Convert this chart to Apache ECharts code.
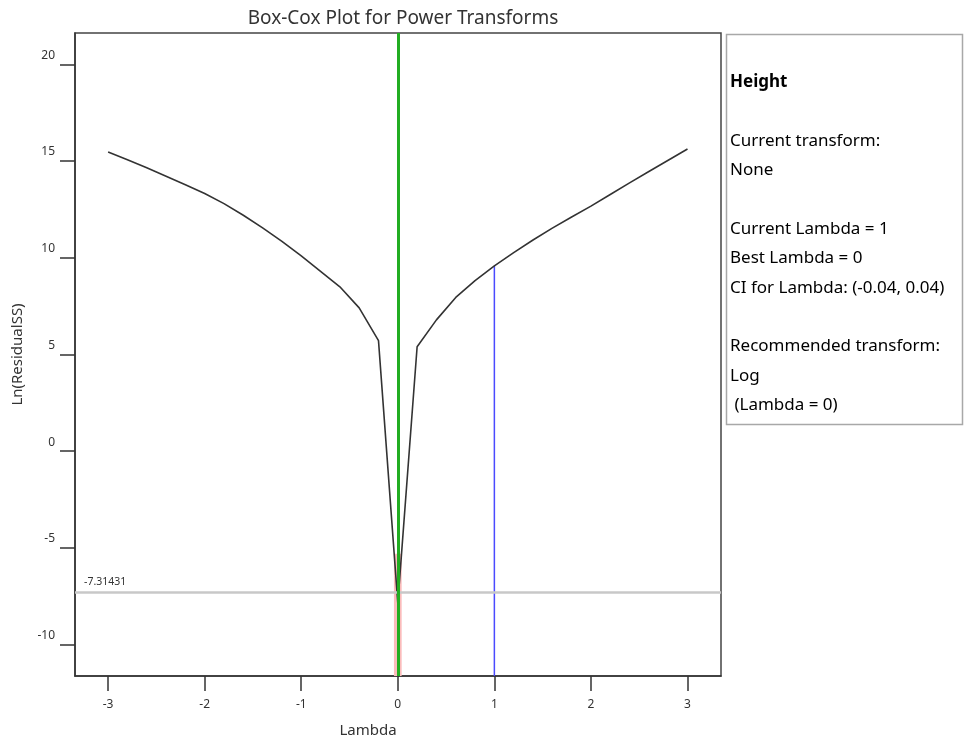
<!DOCTYPE html>
<html>
<head>
<meta charset="utf-8">
<script src="https://cdn.jsdelivr.net/npm/echarts@6/dist/echarts.min.js"></script>
<style>
html,body{margin:0;padding:0;background:#fff;}
#chart{width:966px;height:744px;}
</style>
</head>
<body>
<div id="chart"></div>
<script>
// ---- data ----
const lambdas = [-3, -2.8, -2.6, -2.4, -2.2, -2, -1.8, -1.6, -1.4, -1.2, -1, -0.8, -0.6, -0.4, -0.2, 0,
                 0.2, 0.4, 0.6, 0.8, 1, 1.2, 1.4, 1.6, 1.8, 2, 2.2, 2.4, 2.6, 2.8, 3];
const lnResidualSS = [15.47, 15.07, 14.65, 14.22, 13.78, 13.32, 12.8, 12.2, 11.55, 10.85, 10.1, 9.3, 8.5, 7.41, 5.72, -7.85,
                      5.4, 6.79, 7.95, 8.82, 9.58, 10.27, 10.92, 11.53, 12.11, 12.67, 13.27, 13.87, 14.46, 15.04, 15.62];
const xTicks = [-3, -2, -1, 0, 1, 2, 3];
const yTicks = [-10, -5, 0, 5, 10, 15, 20];
const xRange = [-3.343, 3.347];
const yRange = [-11.62, 21.62];
const currentLambda = 1;
const currentLambdaValue = 9.58;
const bestLambda = 0;
const ciLambda = [-0.04, 0.04];
const ciTop = -5.3;
const thresholdValue = -7.31431;
const panelLines = [
  {text: 'Height', style: 'b'},
  {text: '', style: 'n'},
  {text: 'Current transform:', style: 'n'},
  {text: 'None', style: 'n'},
  {text: '', style: 'n'},
  {text: 'Current Lambda = 1', style: 'blue'},
  {text: 'Best Lambda = 0', style: 'green'},
  {text: 'CI for Lambda: (-0.04, 0.04)', style: 'n'},
  {text: '', style: 'n'},
  {text: 'Recommended transform:', style: 'n'},
  {text: 'Log', style: 'n'},
  {text: ' (Lambda = 0)', style: 'n'}
];

const FONT = '"Noto Sans", "Open Sans", sans-serif';
const chart = echarts.init(document.getElementById('chart'), null, {renderer: 'canvas'});

const curve = lambdas.map((l, i) => [l, lnResidualSS[i]]);
const panelText = panelLines.map(p => p.text === '' ? '{n| }' : '{' + p.style + '|' + p.text + '}').join('\n');

const option = {
  backgroundColor: '#fff',
  animation: false,
  title: {
    text: 'Box-Cox Plot for Power Transforms',
    left: 398, top: 4, textAlign: 'center',
    textStyle: {fontFamily: FONT, fontSize: 19, fontWeight: 'normal', color: '#333'}
  },
  grid: {left: 75, right: 245, top: 33, bottom: 68, show: true, borderColor: '#444', borderWidth: 1.5, backgroundColor: 'transparent'},
  xAxis: {
    type: 'value', min: xRange[0], max: xRange[1],
    name: 'Lambda', nameLocation: 'middle', nameGap: 47,
    nameTextStyle: {fontFamily: FONT, fontSize: 15, color: '#333', padding: [0, 60, 0, 0]},
    axisLine: {show: true, onZero: false, lineStyle: {color: '#333', width: 1.5}},
    axisTick: {show: true, length: 15, inside: false, customValues: xTicks, lineStyle: {color: '#333', width: 1.5}},
    axisLabel: {customValues: xTicks, margin: 23, fontFamily: FONT, fontSize: 12, color: '#333'},
    splitLine: {show: false}
  },
  yAxis: {
    type: 'value', min: yRange[0], max: yRange[1],
    name: 'Ln(ResidualSS)', nameLocation: 'middle', nameGap: 50, nameRotate: 90,
    nameTextStyle: {fontFamily: FONT, fontSize: 15, color: '#333'},
    axisLine: {show: true, onZero: false, lineStyle: {color: '#333', width: 1.5}},
    axisTick: {show: true, length: 15, inside: false, customValues: yTicks, lineStyle: {color: '#333', width: 1.5}},
    axisLabel: {customValues: yTicks, margin: 20, fontFamily: FONT, fontSize: 12, color: '#333', verticalAlign: 'bottom', lineHeight: 18},
    splitLine: {show: false}
  },
  series: [
    {
      type: 'line', name: 'ci', data: [], z: 1,
      markArea: {
        silent: true,
        itemStyle: {color: '#fbbcbc'},
        data: [[{xAxis: ciLambda[0], yAxis: yRange[0]}, {xAxis: ciLambda[1], yAxis: ciTop}]]
      }
    },
    {
      type: 'line', name: 'threshold', data: [], z: 2,
      markLine: {
        silent: true, symbol: 'none', animation: false,
        lineStyle: {color: '#c8c8c8', width: 2.5, type: 'solid'},
        label: {show: true, position: 'insideStartTop', formatter: String(thresholdValue), fontFamily: FONT, fontSize: 10.5, color: '#333', distance: [9, 5]},
        data: [{yAxis: thresholdValue}]
      }
    },
    {
      type: 'line', name: 'best', data: [], z: 3,
      markLine: {
        silent: true, symbol: 'none', animation: false,
        lineStyle: {color: '#22ad22', width: 3, type: 'solid'},
        label: {show: false},
        data: [{xAxis: bestLambda}]
      }
    },
    {
      type: 'line', name: 'current', z: 3,
      data: [[currentLambda, yRange[0]], [currentLambda, currentLambdaValue]],
      showSymbol: false, symbol: 'none',
      lineStyle: {color: '#4a4aff', width: 1.5}
    },
    {
      type: 'line', name: 'curve', z: 4,
      data: curve, showSymbol: false, symbol: 'none',
      lineStyle: {color: '#333', width: 1.6}
    }
  ],
  graphic: [
    {
      type: 'rect', shape: {x: 726.5, y: 34.5, width: 236, height: 390},
      style: {fill: '#fff', stroke: '#a8a8a8', lineWidth: 1.5}
    },
    {
      type: 'text', left: 730, top: 74,
      style: {
        text: panelText,
        rich: {
          b: {fontFamily: FONT, fontSize: 17, fontWeight: 'bold', color: '#000', lineHeight: 29.35},
          n: {fontFamily: FONT, fontSize: 17, color: '#222', lineHeight: 29.35},
          blue: {fontFamily: FONT, fontSize: 17, color: '#3333ff', lineHeight: 29.35},
          green: {fontFamily: FONT, fontSize: 17, color: '#22bb22', lineHeight: 29.35}
        }
      }
    }
  ]
};
chart.setOption(option);
</script>
</body>
</html>
